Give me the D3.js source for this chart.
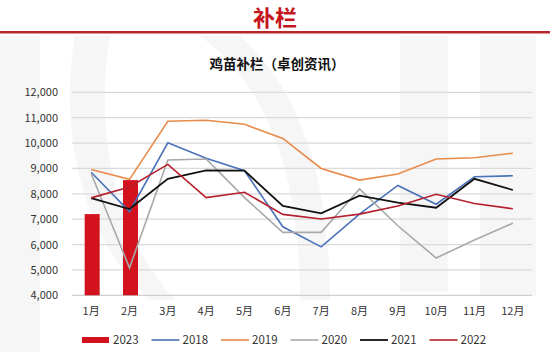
<!DOCTYPE html>
<html><head><meta charset="utf-8">
<script src="https://cdn.jsdelivr.net/npm/d3@7"></script>
<style>
html,body{margin:0;padding:0;background:#fff;}
svg{display:block;font-family:"Noto Sans CJK SC","Noto Sans",sans-serif;}
</style></head>
<body><svg id="c" width="550" height="352"></svg>
<script>
const months = ["1月","2月","3月","4月","5月","6月","7月","8月","9月","10月","11月","12月"];
const yTicks = [4000,5000,6000,7000,8000,9000,10000,11000,12000];
const bar2023 = [7200, 8540];
const s2018 = [8850, 7300, 10010, 9400, 8910, 6700, 5910, 7200, 8330, 7590, 8670, 8710];
const s2019 = [8960, 8570, 10860, 10900, 10740, 10180, 9000, 8540, 8780, 9370, 9420, 9600];
const s2020 = [8800, 5080, 9330, 9370, 7850, 6480, 6480, 8190, 6740, 5470, 6180, 6840];
const s2021 = [7830, 7400, 8590, 8920, 8910, 7520, 7230, 7930, 7650, 7450, 8590, 8150];
const s2022 = [7840, 8270, 9160, 7850, 8060, 7190, 7010, 7200, 7520, 7980, 7620, 7410];
const lineSeries = [
  {name:"2018", values:s2018, color:"#4a72b8", w:1.6},
  {name:"2019", values:s2019, color:"#e88a4a", w:1.6},
  {name:"2020", values:s2020, color:"#a8a8a8", w:1.6},
  {name:"2021", values:s2021, color:"#111111", w:1.8},
  {name:"2022", values:s2022, color:"#b5202c", w:1.6}
];

const svg = d3.select("#c");
// faint watermark
const wm = svg.append("g").attr("fill","#f6f6f6");
wm.append("rect").attr("x",0).attr("y",36).attr("width",40).attr("height",316);
wm.append("rect").attr("x",400).attr("y",36).attr("width",48).attr("height",256);
wm.append("rect").attr("x",480).attr("y",36).attr("width",56).attr("height",260);
wm.append("path").attr("d","M75,36 C60,120 75,230 150,300 L175,300 C110,230 95,120 110,36 Z");
wm.append("path").attr("d","M200,36 C260,80 300,160 300,300 L330,300 C330,160 290,80 240,36 Z");

// header
svg.append("text").attr("x",275).attr("y",26).attr("text-anchor","middle")
  .attr("font-size",22).attr("font-weight",700).attr("fill","#c4161c").text("补栏");
svg.append("rect").attr("x",0).attr("y",31).attr("width",550).attr("height",2.5).attr("fill","#b8262b");

svg.append("text").attr("x",277).attr("y",69).attr("text-anchor","middle")
  .attr("font-size",13.5).attr("font-weight",700).attr("fill","#111").text("鸡苗补栏（卓创资讯）");

const x = d3.scaleBand().domain(months).range([72,532]);
const y = d3.scaleLinear().domain([4000,12000]).range([295.3,92.3]);

// gridlines
svg.append("g").selectAll("line").data(yTicks).join("line")
  .attr("x1",72).attr("x2",532).attr("y1",d=>y(d)).attr("y2",d=>y(d))
  .attr("stroke",d=>d===4000?"#cfcfcf":"#dadada").attr("stroke-width",1.2);

// y axis labels
const yAxis = d3.axisLeft(y).tickValues(yTicks).tickFormat(d3.format(",")).tickSize(0).tickPadding(0);
const ya = svg.append("g").attr("transform","translate(58,0)").call(yAxis);
ya.select(".domain").remove();
ya.selectAll("text").attr("font-size",11).attr("fill","#333").attr("font-family","\"Noto Sans CJK SC\",sans-serif");

// x axis labels
const xAxis = d3.axisBottom(x).tickSize(0).tickPadding(0);
const xa = svg.append("g").attr("transform","translate(0,307)").call(xAxis);
xa.select(".domain").remove();
xa.selectAll("text").attr("font-size",11).attr("fill","#333").attr("font-family","\"Noto Sans CJK SC\",sans-serif");

// bars
const bw = 15;
svg.append("g").selectAll("rect").data(bar2023).join("rect")
  .attr("x",(d,i)=>x(months[i])+x.bandwidth()/2-bw/2+1)
  .attr("width",bw)
  .attr("y",d=>y(d)).attr("height",d=>y(4000)-y(d))
  .attr("fill","#d2121c");

// lines
const line = d3.line().x((d,i)=>x(months[i])+x.bandwidth()/2).y(d=>y(d));
svg.append("g").selectAll("path").data(lineSeries).join("path")
  .attr("d",d=>line(d.values)).attr("fill","none")
  .attr("stroke",d=>d.color).attr("stroke-width",d=>d.w).attr("stroke-linejoin","miter");

// legend
const lg = svg.append("g").attr("font-size",11.5).attr("fill","#333");
const items = [{name:"2023",color:"#d2121c",bar:true}].concat(lineSeries);
items.forEach((it,i)=>{
  const x0 = 82 + i*69.5;
  if(it.bar){
    lg.append("rect").attr("x",x0).attr("y",337).attr("width",27).attr("height",6).attr("fill",it.color);
  } else {
    lg.append("line").attr("x1",x0).attr("x2",x0+28).attr("y1",340).attr("y2",340)
      .attr("stroke",it.color).attr("stroke-width",it.w);
  }
  lg.append("text").attr("x",x0+31).attr("y",344).text(it.name);
});
</script></body></html>
